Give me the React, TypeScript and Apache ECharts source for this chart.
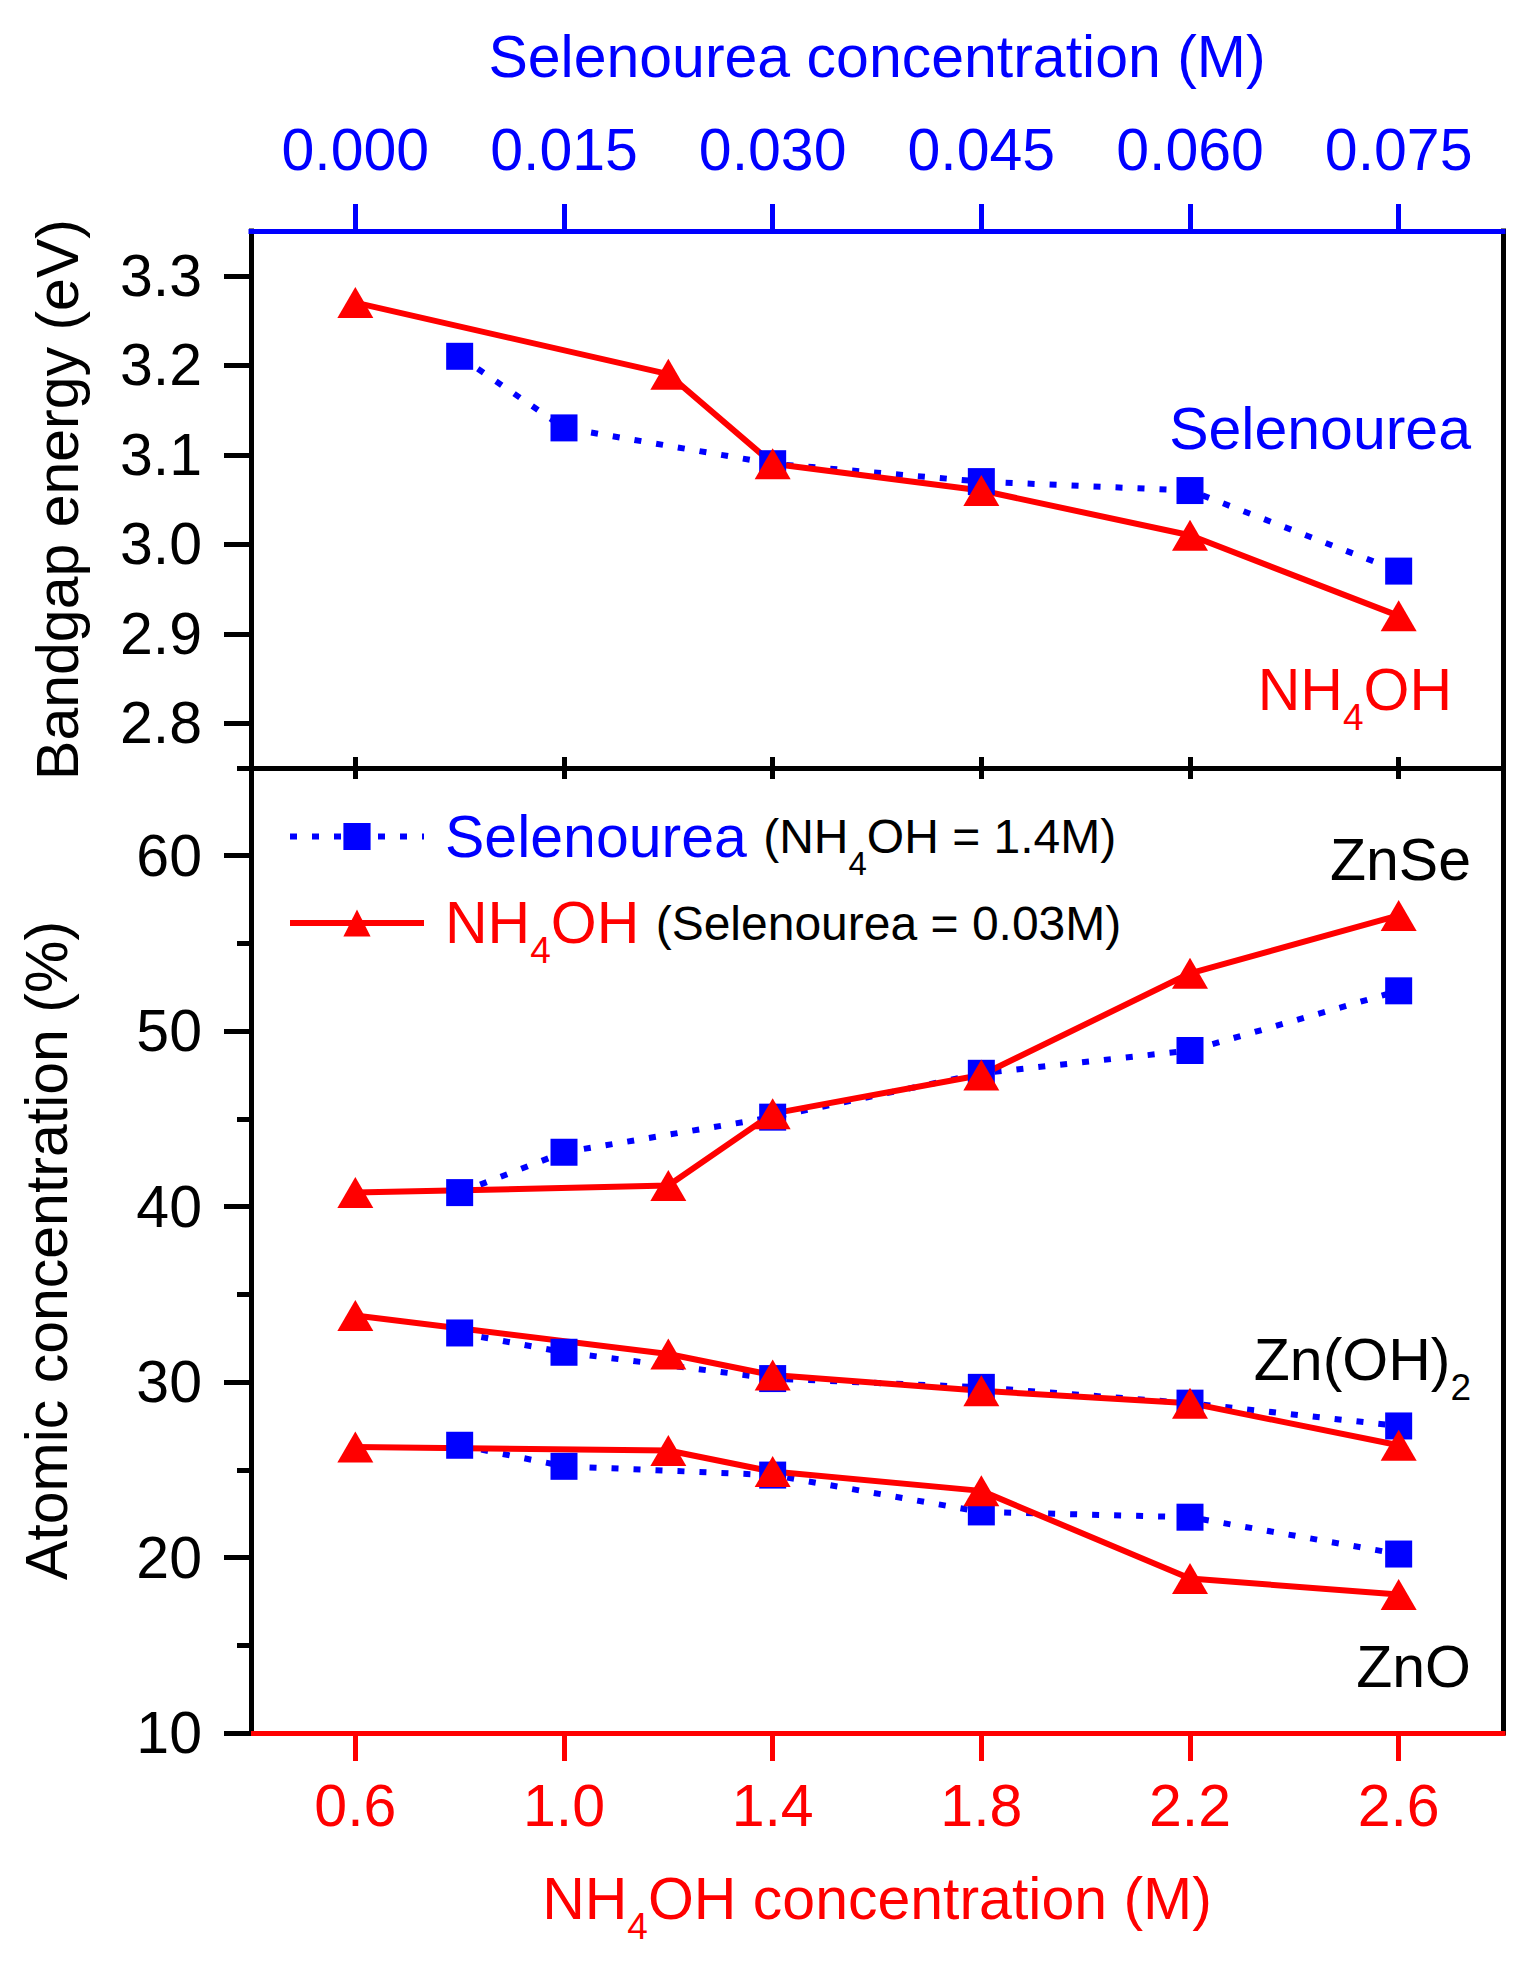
import { useEffect, useRef } from "react";
import * as echarts from "echarts";

// x positions of the measured samples
const nh4ohConc = [0.6, 1.2, 1.4, 1.8, 2.2, 2.6];
const selenoureaConc = [0.0075, 0.015, 0.03, 0.045, 0.06, 0.075];

// top panel: bandgap energy (eV)
const bandgapSelenourea = [3.21, 3.13, 3.09, 3.07, 3.06, 2.97];
const bandgapNh4oh = [3.27, 3.19, 3.09, 3.06, 3.01, 2.92];

// bottom panel: atomic concentration (%)
const znSeSelenourea = [40.8, 43.1, 45.1, 47.6, 48.9, 52.3];
const znSeNh4oh = [40.8, 41.2, 45.3, 47.5, 53.3, 56.6];
const znOH2Selenourea = [32.8, 31.7, 30.2, 29.7, 28.8, 27.5];
const znOH2Nh4oh = [33.8, 31.6, 30.4, 29.5, 28.8, 26.4];
const znOSelenourea = [26.4, 25.2, 24.7, 22.6, 22.3, 20.2];
const znONh4oh = [26.3, 26.1, 24.9, 23.8, 18.8, 17.9];

// tick labels
const nh4ohTicks = [0.6, 1.0, 1.4, 1.8, 2.2, 2.6];
const selenoureaTicks = [0, 0.015, 0.03, 0.045, 0.06, 0.075];
const bandgapTicks = [2.8, 2.9, 3.0, 3.1, 3.2, 3.3];
const atomicTicks = [10, 20, 30, 40, 50, 60];
const atomicMinorTicks = [15, 25, 35, 45, 55, 65];

const FONT = "'Liberation Sans', Arial, Helvetica, sans-serif";
const BLUE = "#0000ff";
const RED = "#ff0000";
const BLACK = "#000000";
const LINE_W = 6;

const pairs = (xs: number[], ys: number[]) => xs.map((x, i) => [x, ys[i]]);

const main = (color: string, extra = {}) => ({
  color,
  fill: color,
  fontSize: 59,
  fontFamily: FONT,
  lineHeight: 70,
  ...extra,
});

const sub = (color: string, size = 37, shift = 55) => ({
  color,
  fill: color,
  fontSize: size,
  fontFamily: FONT,
  lineHeight: 10,
  padding: [shift, 0, 0, 0],
});

const axisLine = (color: string) => ({
  show: true,
  onZero: false,
  lineStyle: { color, width: 5, cap: "square" },
});

const ticks = (color: string, values: number[], length: number) => ({
  show: true,
  inside: false,
  customValues: values,
  length,
  lineStyle: { color, width: 5 },
});

const blueSeries = (
  name: string,
  data: number[][],
  xAxisIndex: number,
  yAxisIndex: number
) => ({
  name,
  type: "line",
  xAxisIndex,
  yAxisIndex,
  data,
  symbol: "rect",
  symbolSize: 27,
  itemStyle: { color: BLUE },
  lineStyle: { color: BLUE, width: LINE_W, type: [7, 15] },
  emphasis: { disabled: true },
  silent: true,
});

const redSeries = (
  name: string,
  data: number[][],
  xAxisIndex: number,
  yAxisIndex: number
) => ({
  name,
  type: "line",
  xAxisIndex,
  yAxisIndex,
  data,
  symbol: "triangle",
  symbolSize: [36, 31],
  itemStyle: { color: RED },
  lineStyle: { color: RED, width: LINE_W },
  emphasis: { disabled: true },
  silent: true,
});

const label = (x: number, y: number, text: string, rich?: object, color = BLACK) => ({
  type: "text",
  x,
  y,
  silent: true,
  style: {
    text,
    fill: color,
    fontSize: 59,
    fontFamily: FONT,
    align: "right",
    verticalAlign: "middle",
    lineHeight: 70,
    rich,
  },
});

const App = () => {
  const chartRef = useRef<HTMLDivElement>(null);

  useEffect(() => {
    if (!chartRef.current) return;
    document.body.style.margin = "0";

    const chart = echarts.init(chartRef.current, undefined, { renderer: "svg" });

    const option = {
      animation: false,
      backgroundColor: "#ffffff",
      textStyle: { fontFamily: FONT },
      grid: [
        { left: 251, top: 231, width: 1252, height: 537, outerBoundsMode: "none" },
        { left: 251, top: 768, width: 1252, height: 965, outerBoundsMode: "none" },
      ],
      legend: {
        data: ["Selenourea", "NH4OH"],
        orient: "vertical",
        left: 287,
        top: 793,
        padding: 0,
        itemWidth: 134,
        itemHeight: 34,
        itemGap: -3,
        selectedMode: false,
        lineStyle: { width: LINE_W },
        formatter: (name: string) =>
          name === "Selenourea"
            ? "{blueA|Selenourea }{par|(NH}{parSub|4}{par|OH = 1.4M)}"
            : "{redA|NH}{redSub|4}{red|OH }{par|(Selenourea = 0.03M)}",
        textStyle: {
          fontFamily: FONT,
          fontSize: 48,
          lineHeight: 70,
          color: BLACK,
          rich: {
            blueA: main(BLUE, { padding: [0, 0, 0, 16] }),
            redA: main(RED, { padding: [0, 0, 0, 16] }),
            red: main(RED),
            redSub: sub(RED),
            par: { color: BLACK, fontSize: 48, fontFamily: FONT, lineHeight: 70 },
            parSub: sub(BLACK, 33, 54),
          },
        },
      },
      xAxis: [
        {
          gridIndex: 0,
          type: "value",
          position: "bottom",
          min: 0.4,
          max: 2.8,
          axisLine: axisLine(BLACK),
          axisTick: ticks(BLACK, nh4ohTicks, 11),
          axisLabel: { show: false },
          splitLine: { show: false },
        },
        {
          gridIndex: 0,
          type: "value",
          position: "top",
          min: -0.0075,
          max: 0.0825,
          axisLine: axisLine(BLUE),
          axisTick: ticks(BLUE, selenoureaTicks, 27),
          axisLabel: {
            customValues: selenoureaTicks,
            formatter: (v: number) => v.toFixed(3),
            color: BLUE,
            fontSize: 59,
            fontFamily: FONT,
            lineHeight: 70,
            margin: 46,
          },
          splitLine: { show: false },
          name: "Selenourea concentration (M)",
          nameLocation: "middle",
          nameGap: 139,
          nameMoveOverlap: false,
          nameTextStyle: { color: BLUE, fontSize: 59, fontFamily: FONT, lineHeight: 70 },
        },
        {
          gridIndex: 1,
          type: "value",
          position: "bottom",
          min: 0.4,
          max: 2.8,
          axisLine: axisLine(RED),
          axisTick: ticks(RED, nh4ohTicks, 28),
          axisLabel: {
            customValues: nh4ohTicks,
            formatter: (v: number) => v.toFixed(1),
            color: RED,
            fontSize: 59,
            fontFamily: FONT,
            lineHeight: 70,
            margin: 38,
          },
          splitLine: { show: false },
          name: "{r|NH}{rs|4}{r|OH concentration (M)}",
          nameLocation: "middle",
          nameGap: 131,
          nameMoveOverlap: false,
          nameTextStyle: {
            color: RED,
            fontSize: 59,
            fontFamily: FONT,
            lineHeight: 70,
            rich: { r: main(RED), rs: sub(RED) },
          },
        },
        {
          gridIndex: 1,
          type: "value",
          position: "top",
          min: -0.0075,
          max: 0.0825,
          axisLine: axisLine(BLACK),
          axisTick: ticks(BLACK, selenoureaTicks, 11),
          axisLabel: { show: false },
          splitLine: { show: false },
        },
      ],
      yAxis: [
        {
          gridIndex: 0,
          type: "value",
          position: "left",
          min: 2.75,
          max: 3.35,
          axisLine: axisLine(BLACK),
          axisTick: ticks(BLACK, bandgapTicks, 27),
          axisLabel: {
            customValues: bandgapTicks,
            formatter: (v: number) => v.toFixed(1),
            color: BLACK,
            fontSize: 59,
            fontFamily: FONT,
            margin: 49,
          },
          splitLine: { show: false },
          name: "Bandgap energy (eV)",
          nameLocation: "middle",
          nameGap: 158,
          nameMoveOverlap: false,
          nameTextStyle: { color: BLACK, fontSize: 59, fontFamily: FONT, lineHeight: 70 },
        },
        {
          gridIndex: 0,
          type: "value",
          position: "right",
          min: 2.75,
          max: 3.35,
          axisLine: axisLine(BLACK),
          axisTick: { show: false },
          axisLabel: { show: false },
          splitLine: { show: false },
        },
        {
          gridIndex: 1,
          type: "value",
          position: "left",
          min: 10,
          max: 65,
          axisLine: axisLine(BLACK),
          axisTick: ticks(BLACK, atomicTicks, 27),
          axisLabel: {
            customValues: atomicTicks,
            color: BLACK,
            fontSize: 59,
            fontFamily: FONT,
            margin: 49,
          },
          splitLine: { show: false },
          name: "Atomic concentration (%)",
          nameLocation: "middle",
          nameGap: 169,
          nameMoveOverlap: false,
          nameTextStyle: { color: BLACK, fontSize: 59, fontFamily: FONT, lineHeight: 70 },
        },
        {
          // minor ticks of the atomic concentration axis
          gridIndex: 1,
          type: "value",
          position: "left",
          offset: 0,
          min: 10,
          max: 65,
          axisLine: { show: false, onZero: false },
          axisTick: ticks(BLACK, atomicMinorTicks, 14),
          axisLabel: { show: false },
          splitLine: { show: false },
        },
        {
          gridIndex: 1,
          type: "value",
          position: "right",
          min: 10,
          max: 65,
          axisLine: axisLine(BLACK),
          axisTick: { show: false },
          axisLabel: { show: false },
          splitLine: { show: false },
        },
      ],
      series: [
        blueSeries("Selenourea", pairs(selenoureaConc, bandgapSelenourea), 1, 0),
        blueSeries("Selenourea", pairs(selenoureaConc, znSeSelenourea), 3, 2),
        blueSeries("Selenourea", pairs(selenoureaConc, znOH2Selenourea), 3, 2),
        blueSeries("Selenourea", pairs(selenoureaConc, znOSelenourea), 3, 2),
        redSeries("NH4OH", pairs(nh4ohConc, bandgapNh4oh), 0, 0),
        redSeries("NH4OH", pairs(nh4ohConc, znSeNh4oh), 2, 2),
        redSeries("NH4OH", pairs(nh4ohConc, znOH2Nh4oh), 2, 2),
        redSeries("NH4OH", pairs(nh4ohConc, znONh4oh), 2, 2),
      ],
      graphic: [
        label(1471, 429, "Selenourea", undefined, BLUE),
        label(1452, 690, "{r|NH}{rs|4}{r|OH}", { r: main(RED), rs: sub(RED) }, RED),
        label(1471, 860, "ZnSe"),
        label(1471, 1360, "{k|Zn(OH)}{ks|2}", { k: main(BLACK), ks: sub(BLACK) }),
        label(1471, 1667, "ZnO"),
      ],
    };

    chart.setOption(option as echarts.EChartsOption);

    return () => {
      chart.dispose();
    };
  }, []);

  return <div ref={chartRef} style={{ width: 1522, height: 1961 }} />;
};

export default App;
